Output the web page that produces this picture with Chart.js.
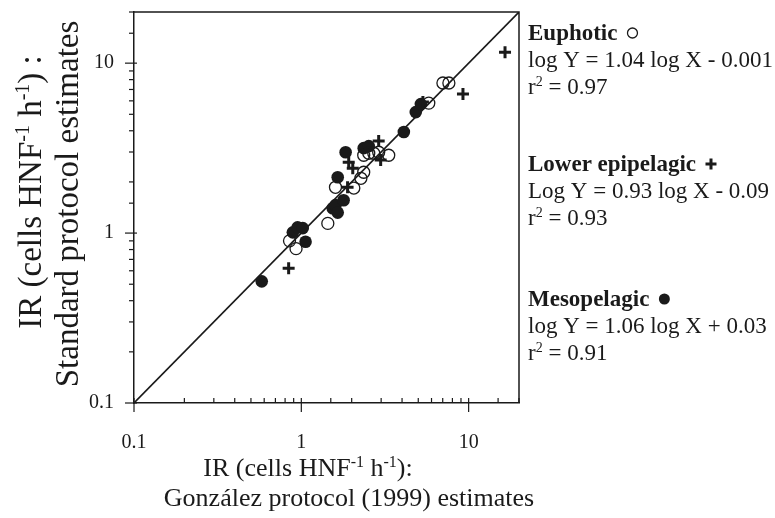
<!DOCTYPE html>
<html>
<head>
<meta charset="utf-8">
<script src="https://cdn.jsdelivr.net/npm/chart.js@4.4.1/dist/chart.umd.min.js"></script>
<style>
  html, body { margin: 0; padding: 0; background: #fff; }
  #wrap { width: 775px; height: 518px; }
</style>
</head>
<body>
<div id="wrap"><canvas id="c"></canvas></div>
<script>
// ── data ───────────────────────────────────────────────────────────────────
const euphoticX = [0.85, 0.93, 1.44, 1.60, 2.06, 2.27, 2.36, 2.36, 2.53, 2.71, 2.90, 3.33, 5.78, 7.02, 7.62];
const euphoticY = [0.90, 0.81, 1.14, 1.86, 1.84, 2.10, 2.28, 2.87, 2.95, 2.95, 2.99, 2.87, 5.82, 7.64, 7.64];

const epiX = [0.84, 1.89, 1.92, 2.03, 2.90, 2.98, 5.33, 9.25, 16.5];
const epiY = [0.62, 1.86, 2.61, 2.41, 3.48, 2.69, 5.90, 6.58, 11.6];

const mesoX = [0.58, 0.89, 0.95, 1.02, 1.06, 1.54, 1.60, 1.65, 1.79, 1.65, 1.84, 2.36, 2.53, 4.10, 4.83, 5.18];
const mesoY = [0.52, 1.01, 1.08, 1.07, 0.89, 1.40, 1.46, 1.32, 1.56, 2.13, 2.99, 3.16, 3.25, 3.93, 5.15, 5.74];

const oneToOneX = [0.1, 20];
const oneToOneY = [0.1, 20];

const tickValues = [0.1, 1, 10];
const tickLabels = ['0.1', '1', '10'];

const groupNames = ['Euphotic', 'Lower epipelagic', 'Mesopelagic'];
const groupEqs   = ['log Y = 1.04 log X - 0.001', 'Log Y = 0.93 log X - 0.09', 'log Y = 1.06 log X + 0.03'];
const groupR2    = ['0.97', '0.93', '0.91'];

// ── helpers ────────────────────────────────────────────────────────────────
const SERIF = "'Liberation Serif', 'DejaVu Serif', serif";
const INK = '#1a1a1a';

const pts = (xs, ys) => xs.map((x, i) => ({ x, y: ys[i] }));

function labelFor(v) {
  const i = tickValues.findIndex(t => Math.abs(Math.log10(v) - Math.log10(t)) < 1e-6);
  return i >= 0 ? tickLabels[i] : '';
}

// text made of normal + superscript segments
function setFont(ctx, s, size) {
  ctx.font = `${s.bold ? 'bold ' : ''}${s.sup ? Math.round(size * 0.62) : size}px ${SERIF}`;
}
function richWidth(ctx, segs, size) {
  let w = 0;
  segs.forEach(s => { setFont(ctx, s, size); w += ctx.measureText(s.t).width; });
  return w;
}
function drawRich(ctx, segs, x, y, size, align) {
  let cx = align === 'center' ? x - richWidth(ctx, segs, size) / 2 : x;
  ctx.textAlign = 'left';
  ctx.textBaseline = 'alphabetic';
  segs.forEach(s => {
    setFont(ctx, s, size);
    ctx.fillText(s.t, cx, s.sup ? y - size * 0.36 : y);
    cx += ctx.measureText(s.t).width;
  });
  return cx;
}

const irSegs = tail => [{ t: 'IR (cells HNF' }, { t: '-1', sup: true }, { t: ' h' }, { t: '-1', sup: true }, { t: tail }];

// ── frame, ticks, titles, annotations ──────────────────────────────────────
const decor = {
  id: 'decor',
  afterDraw(chart) {
    const { ctx, chartArea: a, scales: { x, y } } = chart;
    ctx.save();
    ctx.strokeStyle = INK;
    ctx.fillStyle = INK;

    // top + right frame
    ctx.lineWidth = 1.5;
    ctx.beginPath();
    ctx.moveTo(a.left, a.top); ctx.lineTo(a.right, a.top); ctx.lineTo(a.right, a.bottom);
    ctx.stroke();

    // ticks: x minor inside, y minor outside
    ctx.lineWidth = 1.2;
    x.ticks.forEach(t => {
      const px = x.getPixelForValue(t.value);
      const major = labelFor(t.value) !== '';
      ctx.beginPath();
      ctx.moveTo(px, a.bottom - 5);
      ctx.lineTo(px, major ? a.bottom + 9 : a.bottom);
      ctx.stroke();
    });
    y.ticks.forEach(t => {
      const py = y.getPixelForValue(t.value);
      const major = labelFor(t.value) !== '';
      ctx.beginPath();
      ctx.moveTo(a.left - (major ? 9 : 5), py);
      ctx.lineTo(a.left + (major ? 3 : 0), py);
      ctx.stroke();
    });

    // x title
    const T = 26;
    drawRich(ctx, irSegs('):'), 308, 476, T, 'center');
    drawRich(ctx, [{ t: 'González protocol (1999) estimates' }], 349, 506, T, 'center');

    // y title (rotated)
    const TY = 33;
    ctx.save();
    ctx.translate(41, 192);
    ctx.rotate(-Math.PI / 2);
    drawRich(ctx, irSegs(') :'), 0, 0, TY, 'center');
    ctx.restore();
    ctx.save();
    ctx.translate(78, 204);
    ctx.rotate(-Math.PI / 2);
    drawRich(ctx, [{ t: 'Standard protocol estimates' }], 0, 0, TY, 'center');
    ctx.restore();

    // annotations on the right
    const S = 23, X0 = 528;
    const bases = [40, 171, 306];
    bases.forEach((b, i) => {
      const end = drawRich(ctx, [{ t: groupNames[i], bold: true }], X0, b, S, 'left');
      const sx = end + 15, sy = b - 7;
      ctx.lineWidth = 1.3;
      if (i === 0) {
        ctx.beginPath(); ctx.arc(sx, sy, 5, 0, Math.PI * 2); ctx.stroke();
      } else if (i === 1) {
        ctx.lineWidth = 3;
        ctx.beginPath();
        ctx.moveTo(sx - 5.5, sy); ctx.lineTo(sx + 5.5, sy);
        ctx.moveTo(sx, sy - 5.5); ctx.lineTo(sx, sy + 5.5);
        ctx.stroke();
      } else {
        ctx.beginPath(); ctx.arc(sx, sy, 5.5, 0, Math.PI * 2); ctx.fill();
      }
      drawRich(ctx, [{ t: groupEqs[i] }], X0, b + 27, S, 'left');
      drawRich(ctx, [{ t: 'r' }, { t: '2', sup: true }, { t: ' = ' + groupR2[i] }], X0, b + 54, S, 'left');
    });

    ctx.restore();
  }
};

// ── chart ──────────────────────────────────────────────────────────────────
const logAxis = (pos) => ({
  type: 'logarithmic', position: pos, min: 0.1, max: 20,
  grid: { display: false, drawTicks: false },
  border: { display: true, color: INK, width: 1.5 },
  ticks: {
    autoSkip: false, maxRotation: 0, color: INK,
    font: { family: SERIF, size: 20 },
    padding: pos === 'bottom' ? 28 : 20,
    callback: v => labelFor(v),
  },
  afterFit: s => {
    if (pos === 'bottom') s.height = 115; else s.width = 134;
    s.paddingTop = 0; s.paddingBottom = 0; s.paddingLeft = 0; s.paddingRight = 0;
  },
});

new Chart(document.getElementById('c'), {
  type: 'scatter',
  data: {
    datasets: [
      {
        type: 'line', label: '1:1', data: pts(oneToOneX, oneToOneY),
        borderColor: INK, borderWidth: 1.6, pointRadius: 0, fill: false, order: 4,
      },
      {
        label: 'Mesopelagic', data: pts(mesoX, mesoY),
        pointStyle: 'circle', pointRadius: 6.3, backgroundColor: INK, borderColor: INK, borderWidth: 0, order: 3,
      },
      {
        label: 'Euphotic', data: pts(euphoticX, euphoticY),
        pointStyle: 'circle', pointRadius: 6, backgroundColor: 'rgba(255,255,255,0)', borderColor: INK, borderWidth: 1.3, order: 2,
      },
      {
        label: 'Lower epipelagic', data: pts(epiX, epiY),
        pointStyle: 'cross', pointRadius: 6, borderColor: INK, borderWidth: 3, order: 1,
      },
    ]
  },
  options: {
    responsive: true, maintainAspectRatio: false, animation: false,
    layout: { padding: { left: 0, right: 256, top: 12, bottom: 0 } },
    plugins: { legend: { display: false }, tooltip: { enabled: false } },
    scales: { x: logAxis('bottom'), y: logAxis('left') },
  },
  plugins: [decor],
});
</script>
</body>
</html>
